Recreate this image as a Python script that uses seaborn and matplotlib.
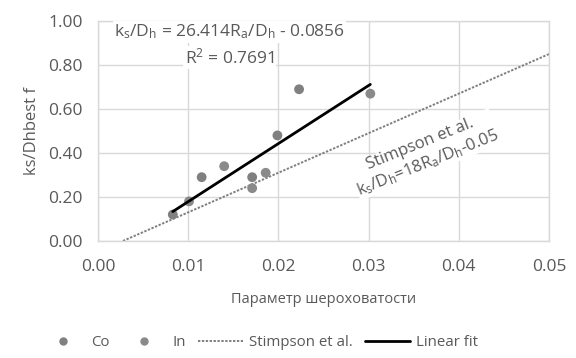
import numpy as np
import pandas as pd
import matplotlib
matplotlib.use("Agg")
import matplotlib.pyplot as plt
import seaborn as sns
from matplotlib.lines import Line2D

# Measured relative roughness vs best-fit equivalent sand roughness
co_x = [0.0083, 0.0115, 0.0171, 0.0199, 0.0223]
co_y = [0.12, 0.29, 0.29, 0.48, 0.69]
in_x = [0.0101, 0.0140, 0.0171, 0.0186, 0.0302]
in_y = [0.18, 0.34, 0.24, 0.31, 0.67]

# Linear fit: ks/Dh = 26.414 Ra/Dh - 0.0856
fit_slope, fit_icpt = 26.414, -0.0856
fit_range = [0.0083, 0.0302]
# Stimpson et al.: ks/Dh = 18 Ra/Dh - 0.05
st_slope, st_icpt = 18.0, -0.05
st_range = [0.05 / 18.0, 0.05]

x_ticks = [0.00, 0.01, 0.02, 0.03, 0.04, 0.05]
y_ticks = [0.00, 0.20, 0.40, 0.60, 0.80, 1.00]

sns.set_theme(style="white")
plt.rcParams["font.family"] = ["Open Sans", "DejaVu Sans"]
plt.rcParams["mathtext.default"] = "regular"

txt = "#595959"
grid = "#d9d9d9"

pts = pd.DataFrame({
    "x": co_x + in_x,
    "y": co_y + in_y,
    "series": ["Co"] * len(co_x) + ["In"] * len(in_x),
})
fit_df = pd.DataFrame({"x": fit_range})
fit_df["y"] = fit_slope * fit_df["x"] + fit_icpt
st_df = pd.DataFrame({"x": st_range})
st_df["y"] = st_slope * st_df["x"] + st_icpt

fig = plt.figure(figsize=(5.76, 3.58), dpi=100)
ax = fig.add_axes([0.170, 0.327, 0.783, 0.614])

sns.lineplot(data=st_df, x="x", y="y", ax=ax, color="#7f7f7f", lw=1.4,
             linestyle=(0, (1.2, 0.8)), zorder=2)
sns.scatterplot(data=pts, x="x", y="y", hue="series",
                palette={"Co": "#808080", "In": "#8a8a8a"},
                s=50, edgecolor="none", ax=ax, legend=False, zorder=3)
sns.lineplot(data=fit_df, x="x", y="y", ax=ax, color="black", lw=2.0, zorder=4)

ax.set_xlim(0, 0.05)
ax.set_ylim(0, 1.0)
ax.set_xticks(x_ticks)
ax.set_yticks(y_ticks)
ax.set_xticklabels([f"{v:.2f}" for v in x_ticks])
ax.set_yticklabels([f"{v:.2f}" for v in y_ticks])
ax.tick_params(axis="both", colors=txt, labelsize=12.5, length=0)
ax.tick_params(axis="x", pad=13)
ax.tick_params(axis="y", pad=11)
ax.grid(True, color=grid, lw=1.0)
ax.set_axisbelow(True)
for sp in ax.spines.values():
    sp.set_color(grid)
    sp.set_linewidth(1.0)

ax.set_xlabel("Параметр шероховатости", color=txt, fontsize=10.5, labelpad=12)
ax.set_ylabel("ks/Dhbest f", color=txt, fontsize=12, labelpad=6)

ax.text(0.0146, 0.95,
        r"k$_s$/D$_h$ = 26.414R$_a$/D$_h$ - 0.0856",
        ha="center", va="center", color=txt, fontsize=12.5,
        bbox=dict(facecolor="white", edgecolor="none", pad=1))
ax.text(0.0146, 0.836, r"R$^2$ = 0.7691", ha="center", va="center",
        color=txt, fontsize=12.5,
        bbox=dict(facecolor="white", edgecolor="none", pad=1))

ax.text(0.0362, 0.395, "Stimpson et al.\n" + r"k$_s$/D$_h$=18R$_a$/D$_h$-0.05",
        ha="center", va="center", color=txt, fontsize=12, rotation=22,
        linespacing=1.2, multialignment="center",
        bbox=dict(facecolor="white", edgecolor="none", pad=0.5))

handles = [
    Line2D([], [], marker="o", color="#808080", linestyle="none", markersize=5),
    Line2D([], [], marker="o", color="#8a8a8a", linestyle="none", markersize=5),
    Line2D([], [], color="#7f7f7f", lw=1.4, linestyle=(0, (1.2, 0.8))),
    Line2D([], [], color="black", lw=2.0),
]
fig.legend(handles, ["Co", "In", "Stimpson et al.", "Linear fit"],
           loc="center", bbox_to_anchor=(0.45, 0.042), ncol=4, frameon=False,
           fontsize=10.8, labelcolor=txt, handlelength=3.0, columnspacing=0.8,
           handletextpad=0.4)

fig.savefig("out.png", dpi=100, facecolor="white")
